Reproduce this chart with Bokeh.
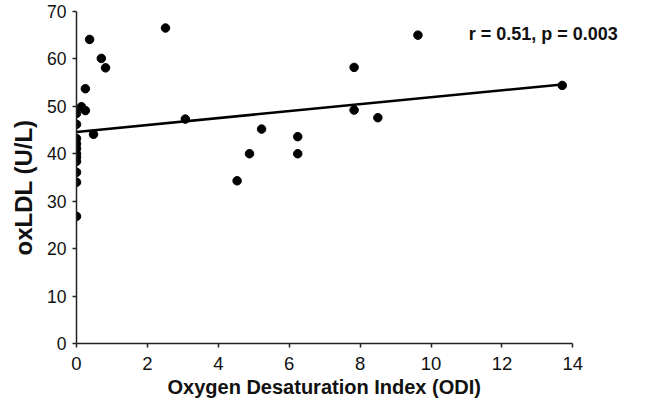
from bokeh.plotting import figure
from bokeh.models import Range1d, FixedTicker, Label, ColumnDataSource, Title
from bokeh.embed import file_html
from bokeh.resources import INLINE

# ---- data ----
odi = [0, 0, 0, 0, 0, 0, 0, 0, 0, 0, 0,
       0.14, 0.25, 0.25, 0.37, 0.70, 0.82, 0.48,
       2.51, 3.07, 4.53, 4.88, 5.22, 6.24, 6.24,
       7.83, 7.83, 8.50, 9.63, 13.70]
oxldl = [48.5, 46.2, 43.2, 42.1, 41.1, 40.0, 39.3, 38.4, 36.1, 34.0, 26.8,
         49.9, 49.1, 53.7, 64.1, 60.1, 58.1, 44.1,
         66.5, 47.3, 34.3, 40.0, 45.2, 43.6, 40.0,
         58.2, 49.2, 47.6, 65.0, 54.4]
fit_x = [0, 13.70]
fit_y = [44.6, 54.6]
x_ticks = [0, 2, 4, 6, 8, 10, 12, 14]
y_ticks = [0, 10, 20, 30, 40, 50, 60, 70]
x_title = "Oxygen Desaturation Index (ODI)"
y_title = "oxLDL (U/L)"
stat_text = "r = 0.51, p = 0.003"
stat_pos = (11.06, 65.2)

p = figure(width=630, height=400, output_backend="svg", toolbar_location=None,
           x_range=Range1d(0, 15.4), y_range=Range1d(0, 72.3),
           min_border_left=75, min_border_right=8, min_border_top=0,
           min_border_bottom=57)
p.outline_line_color = None
p.grid.visible = False
p.background_fill_color = "white"
p.border_fill_color = "white"

for ax in (p.xaxis[0], p.yaxis[0]):
    ax.axis_line_color = "#222222"
    ax.axis_line_width = 1.5
    ax.major_tick_line_color = "#222222"
    ax.major_tick_line_width = 1.5
    ax.major_tick_out = 4
    ax.major_tick_in = 0
    ax.minor_tick_line_color = None
    ax.major_label_text_color = "#111111"
    ax.major_label_text_font = "Liberation Sans"

p.xaxis.bounds = (0, 14)
p.yaxis.bounds = (0, 70)
p.xaxis.ticker = FixedTicker(ticks=x_ticks)
p.yaxis.ticker = FixedTicker(ticks=y_ticks)
p.xaxis.major_label_text_font_size = "18.5px"
p.yaxis.major_label_text_font_size = "17.5px"
p.xaxis.major_label_standoff = 9
p.yaxis.major_label_standoff = 6

p.add_layout(Title(text=x_title, align="left", offset=91, standoff=3,
                   text_font="Liberation Sans", text_font_style="bold",
                   text_font_size="20px", text_color="#111111"), "below")
p.add_layout(Title(text=y_title, align="left", offset=88, standoff=15,
                   text_font="Liberation Sans", text_font_style="bold",
                   text_font_size="24px", text_color="#111111"), "left")

src = ColumnDataSource(dict(x=odi, y=oxldl))
p.line(fit_x, fit_y, line_color="black", line_width=2.5)
p.scatter("x", "y", source=src, size=8.5, fill_color="black", line_color="black")

p.add_layout(Label(x=stat_pos[0], y=stat_pos[1], text=stat_text,
                   text_font="Liberation Sans", text_font_style="bold",
                   text_font_size="18px", text_color="#111111",
                   text_align="left", text_baseline="middle"))

open("out.html", "w").write(file_html(p, INLINE))
